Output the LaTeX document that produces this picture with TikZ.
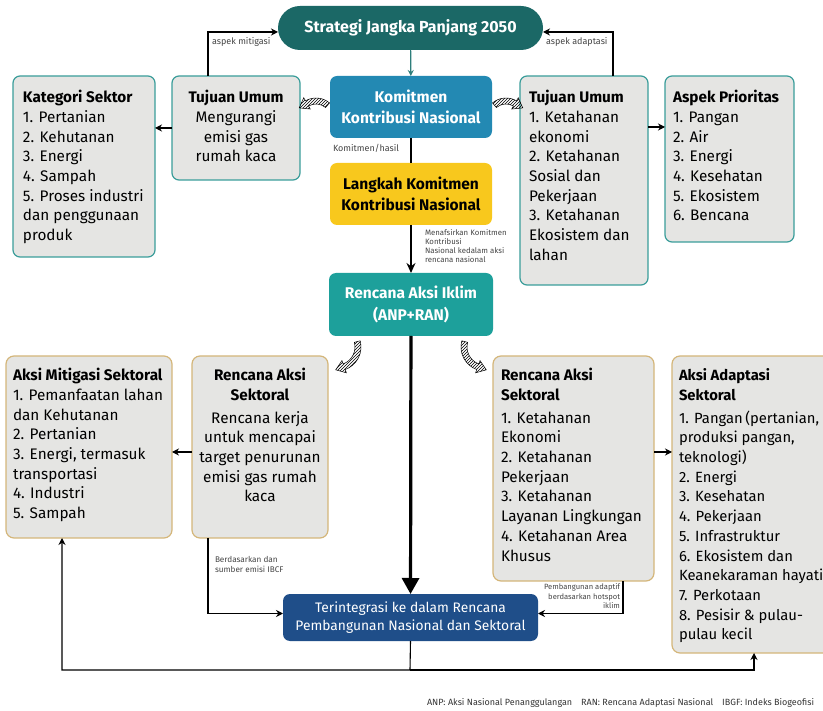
\documentclass[tikz,border=0pt]{standalone}
\usepackage{fontspec}
\setmainfont{Fira Sans}
\usetikzlibrary{arrows.meta,patterns,calc}
\definecolor{cStr}{HTML}{1B6866}
\definecolor{cKom}{HTML}{2389B3}
\definecolor{cLang}{HTML}{F8C81D}
\definecolor{cRAI}{HTML}{1DA09B}
\definecolor{cTer}{HTML}{1F4E89}
\definecolor{cGray}{HTML}{E5E5E3}
\definecolor{cTeal}{HTML}{3A9D9A}
\definecolor{cTan}{HTML}{D4B67A}
\definecolor{cLbl}{HTML}{444444}
\newcommand\swirl[6]{%
  \begin{scope}[shift={(#1,#2)}]
    \pgfmathsetmacro\swO{#3+3}\pgfmathsetmacro\swI{#3-3}%
    \pgfmathsetmacro\swHO{#3+6.5}\pgfmathsetmacro\swHI{#3-6.5}%
    \draw[swirlst] (#4:\swO) arc[start angle=#4,end angle=#5,radius=\swO]
      -- (#5:\swHO) -- ($(#5:#3)+(#6:9)$) -- (#5:\swHI) -- (#5:\swI)
      arc[start angle=#5,end angle=#4,radius=\swI] -- cycle;
  \end{scope}}
\newcommand\bx[3]{\parbox[c][#2][t]{#1}{#3}}
\begin{document}
\begin{tikzpicture}[x=1pt,y=-1pt,
  every node/.style={inner sep=0pt,outer sep=0pt},
  body/.style={font=\fontsize{15.3}{19.7}\selectfont},
  gboxT/.style={body,draw=cTeal,line width=1.2pt,fill=cGray,rounded corners=7pt,anchor=north west},
  gboxB/.style={body,draw=cTan,line width=1.2pt,fill=cGray,rounded corners=8pt,anchor=north west},
  cbox/.style={rounded corners=7pt,anchor=north west,align=center,font=\bfseries\fontsize{15.5}{21.5}\selectfont},
  lbl/.style={font=\fontsize{9}{10.5}\selectfont,text=cLbl,anchor=north west,align=left},
  conn/.style={line width=1.1pt,-{Stealth[length=7pt,width=7pt]}},
  swirlst/.style={draw=black,line width=0.5pt,pattern=north east lines}]
\useasboundingbox (0,0) rectangle (823,711);
\clip (0,0) rectangle (823,711);

% central column
\node[fill=cStr,rounded corners=22pt,minimum width=265pt,minimum height=44pt,anchor=north west,
  text=white,font=\bfseries\fontsize{16}{20}\selectfont] (str) at (278,6) {Strategi Jangka Panjang 2050};
\node[cbox,fill=cKom,text=white,minimum width=162pt,minimum height=62pt] (kom) at (330,76) {Komitmen\\Kontribusi Nasional};
\node[cbox,fill=cLang,text=black,minimum width=162pt,minimum height=62pt] (lang) at (330,163) {Langkah Komitmen\\Kontribusi Nasional};
\node[cbox,fill=cRAI,text=white,minimum width=164pt,minimum height=63pt] (rai) at (329,273) {Rencana Aksi Iklim\\(ANP+RAN)};
\node[rounded corners=7pt,anchor=north west,align=center,fill=cTer,text=white,
  font=\fontsize{13.8}{18}\selectfont,minimum width=255pt,minimum height=47pt] (ter) at (283,594)
  {Terintegrasi ke dalam Rencana\\Pembangunan Nasional dan Sektoral};

% top grey boxes
\node[gboxT,minimum width=142pt,minimum height=181pt] (kat) at (13,76)
 {\bx{122pt}{155pt}{\raggedright\strut\textbf{Kategori Sektor}\\1. Pertanian\\2. Kehutanan\\3. Energi\\4. Sampah\\5. Proses industri\\dan penggunaan\\produk}};
\node[gboxT,minimum width=128pt,minimum height=104pt] (tujL) at (172,76)
 {\bx{120pt}{78pt}{\centering\strut\textbf{Tujuan Umum}\\Mengurangi\\emisi gas\\rumah kaca}};
\node[gboxT,minimum width=128pt,minimum height=209pt] (tujR) at (520,76)
 {\bx{110pt}{183pt}{\raggedright\strut\textbf{Tujuan Umum}\\1. Ketahanan\\ekonomi\\2. Ketahanan\\Sosial dan\\Pekerjaan\\3. Ketahanan\\Ekosistem dan\\lahan}};
\node[gboxT,minimum width=129pt,minimum height=166pt] (asp) at (665,76)
 {\bx{113pt}{140pt}{\raggedright\strut\textbf{Aspek Prioritas}\\1. Pangan\\2. Air\\3. Energi\\4. Kesehatan\\5. Ekosistem\\6. Bencana}};

% bottom grey boxes
\node[gboxB,minimum width=166pt,minimum height=182pt] (mit) at (6,356)
 {\bx{152pt}{160pt}{\raggedright\strut\textbf{Aksi Mitigasi Sektoral}\\1. Pemanfaatan lahan\\dan Kehutanan\\2. Pertanian\\3. Energi, termasuk\\transportasi\\4. Industri\\5. Sampah}};
\node[gboxB,minimum width=136pt,minimum height=182pt] (renL) at (192,356)
 {\bx{132pt}{160pt}{\centering\strut\textbf{Rencana Aksi}\\\textbf{Sektoral}\\[3pt]Rencana kerja\\untuk mencapai\\target penurunan\\emisi gas rumah\\kaca}};
\node[gboxB,minimum width=161pt,minimum height=225pt] (renR) at (493,356)
 {\bx{145pt}{203pt}{\raggedright\strut\textbf{Rencana Aksi}\\\textbf{Sektoral}\\[3pt]1. Ketahanan\\Ekonomi\\2. Ketahanan\\Pekerjaan\\3. Ketahanan\\Layanan Lingkungan\\4. Ketahanan Area\\Khusus}};
\node[gboxB,minimum width=175pt,minimum height=297pt,font=\fontsize{14.8}{19.7}\selectfont] (adp) at (672,356)
 {\bx{161pt}{275pt}{\raggedright\strut\textbf{Aksi Adaptasi}\\\textbf{Sektoral}\\[3pt]1. Pangan\,(pertanian,\\produksi pangan,\\teknologi)\\2. Energi\\3. Kesehatan\\4. Pekerjaan\\5. Infrastruktur\\6. Ekosistem dan\\Keanekaraman hayati\\7. Perkotaan\\8. Pesisir \& pulau-\\pulau kecil}};

% connectors
\draw[cTeal!80!black,line width=1.2pt,-{Stealth[length=6pt,width=6pt]}] (str) -- (kom);
\draw[line width=2pt] (kom) -- (lang);
\draw[line width=1.6pt,-{Stealth[length=10pt,width=9pt]}] (lang) -- (rai);
\draw[line width=3.2pt,-{Triangle[length=16pt,width=17pt]}] (rai) -- (ter);
\draw[conn] ([xshift=36pt]tujL.north west) |- ([yshift=-4pt]str.west);
\draw[conn] ([xshift=-35pt]tujR.north east) |- ([yshift=-4pt]str.east);
\draw[conn] (tujL.west) -- (kat.east |- tujL.west);
\draw[conn] ([yshift=-51pt]tujR.north east) -- ([yshift=-51pt]asp.north west);
\draw[conn] ([yshift=-96pt]renL.north west) -- ([yshift=-96pt]mit.north east);
\draw[conn] ([yshift=-96pt]renR.north east) -- ([yshift=-96pt]adp.north west);
\draw[conn] ([xshift=16pt]renL.south west) |- ([yshift=4pt]ter.west);
\draw[conn] ([xshift=-31pt]renR.south east) |- ([yshift=4pt]ter.east);
\coordinate (bus) at (410,670);
\draw[conn] (ter.south) -- (bus) -| ([xshift=56pt]mit.south west);
\draw[conn] (bus) -| ([xshift=82pt]adp.south west);

% hatched curved arrows
\swirl{316}{119}{18}{-50}{-120}{150}
\swirl{506}{119}{18}{-130}{-60}{30}
\swirl{337}{347}{21}{-15}{70}{160}
\swirl{485}{347}{21}{195}{110}{20}

% labels
\node[lbl] (lmit) at (212,37) {aspek mitigasi};
\node[lbl] (ladp) at (546,37) {aspek adaptasi};
\node[lbl] (lkh) at (333,144) {Komitmen/hasil};
\node[lbl,font=\fontsize{7.8}{9}\selectfont] (lmen) at (425,229) {Menafsirkan Komitmen\\Kontribusi\\Nasional kedalam aksi\\rencana nasional};
\node[lbl,font=\fontsize{8.2}{10}\selectfont] (lber) at (215,556) {Berdasarkan dan\\sumber emisi IBCF};
\node[lbl,font=\fontsize{7.6}{9.5}\selectfont,anchor=north east,align=right] (lpem) at (620,584) {Pembangunan adaptif\\berdasarkan hotspot\\iklim};
\node[lbl,font=\fontsize{9}{10}\selectfont,text=black!80] (foot) at (427,698) {ANP: Aksi Nasional Penanggulangan\quad RAN: Rencana Adaptasi Nasional\quad IBGF: Indeks Biogeofisi};
\end{tikzpicture}
\end{document}
